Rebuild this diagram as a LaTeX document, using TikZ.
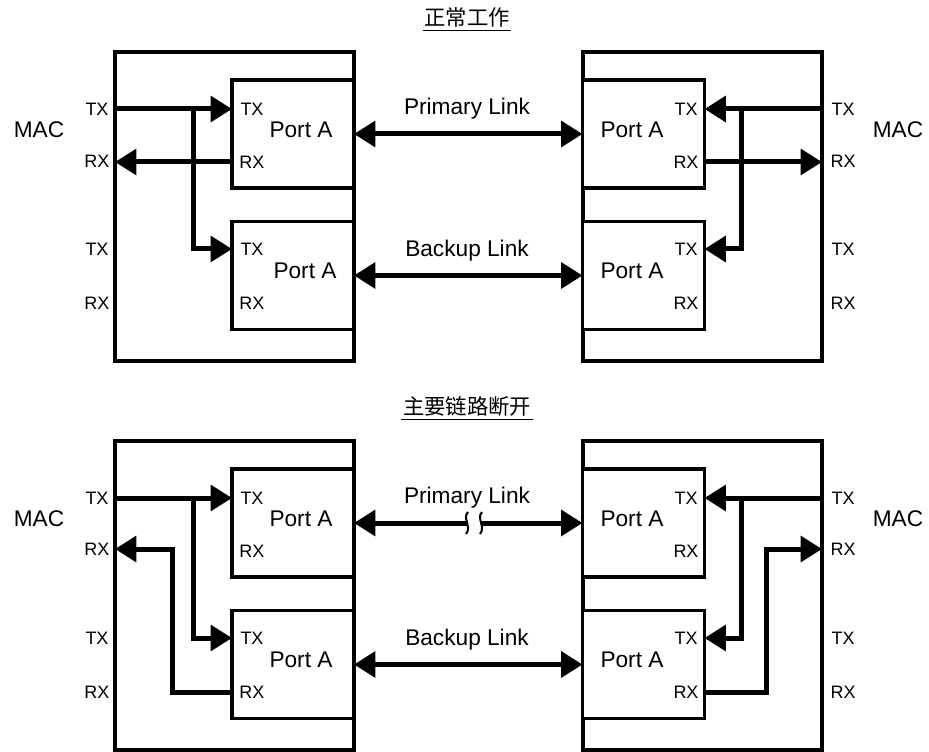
\documentclass[tikz,border=0pt]{standalone}
\usepackage{fontspec}
\setmainfont{Liberation Sans}
\newfontfamily\cjk{Noto Sans CJK SC}
\usetikzlibrary{arrows.meta}

\begin{document}
\begin{tikzpicture}[x=0.75pt,y=-0.75pt,>={Triangle[length=16pt,width=19pt]},
  mac/.style={draw,line width=2.5pt,minimum width=179.25pt,minimum height=231.75pt,inner sep=0pt,outer sep=0pt},
  port/.style={draw,fill=white,line width=2.5pt,minimum width=91.5pt,minimum height=81pt,inner sep=0pt,outer sep=0pt},
  pin/.style={font=\fontsize{13.5}{15}\selectfont,inner sep=0pt},
  big/.style={font=\fontsize{17}{20}\selectfont,inner sep=0pt},
  title/.style={font=\cjk\fontsize{16}{18}\selectfont,inner sep=1pt},
  sig/.style={line width=3.75pt,->},
  link/.style={line width=3.75pt,<->}]
\useasboundingbox (0,0) rectangle (929,752);
% normal operation
\node[title] (t1) at (467,17) {正常工作};
\draw[line width=0.9pt] ([yshift=-1.5pt]t1.south west) -- ([yshift=-1.5pt]t1.south east);
\node[mac] (macL1) at (234.5,206.5) {};
\node[port] (pL1) at (293,134) {};
\node[port] (pL2) at (293,275.5) {};
\node[mac] (macR1) at (702.5,206.5) {};
\node[port] (pR1) at (643.5,134) {};
\node[port] (pR2) at (643.5,275.5) {};
\node[big] (mL1) at (39,130) {MAC};
\node[big] (mR1) at (898,130) {MAC};
\node[pin] (txL1) at (97,109) {TX};
\node[pin] (rxL1) at (97,161) {RX};
\node[pin] (txL2) at (97,249) {TX};
\node[pin] (rxL2) at (97,303) {RX};
\node[pin] (txR1) at (843,109) {TX};
\node[pin] (rxR1) at (843,161) {RX};
\node[pin] (txR2) at (843,249) {TX};
\node[pin] (rxR2) at (843,303) {RX};
\node[pin] (ptxL1) at (252,109) {TX};
\node[pin] (prxL1) at (252,162) {RX};
\node[pin] (ptxL2) at (252,249) {TX};
\node[pin] (prxL2) at (252,303) {RX};
\node[pin] (ptxR1) at (686,109) {TX};
\node[pin] (prxR1) at (686,162) {RX};
\node[pin] (ptxR2) at (686,249) {TX};
\node[pin] (prxR2) at (686,303) {RX};
\node[big] (nL1) at (301,130) {Port A};
\node[big] (nL2) at (305,271) {Port A};
\node[big] (nR1) at (632,130) {Port A};
\node[big] (nR2) at (632,271) {Port A};
\coordinate (jL1) at (193,109);
\draw[sig] (macL1.west |- txL1) -- (pL1.west |- txL1);
\draw[sig] (jL1) |- (pL2.west |- ptxL2);
\draw[sig] (pL1.west |- prxL1) -- (macL1.west |- prxL1);
\coordinate (jR1) at (741,109);
\draw[sig] (macR1.east |- txR1) -- (pR1.east |- txR1);
\draw[sig] (jR1) |- (pR2.east |- ptxR2);
\draw[sig] (pR1.east |- prxR1) -- (macR1.east |- prxR1);
\draw[link] (pL1.east) -- (pR1.west);
\node[big] (lk1) at (467,109) {Primary Link};
\draw[link] (pL2.east) -- (pR2.west);
\node[big] (lk2) at (467,251) {Backup Link};
% primary link down
\node[title] (t2) at (467,406) {主要链路断开};
\draw[line width=0.9pt] ([yshift=-1.5pt]t2.south west) -- ([yshift=-1.5pt]t2.south east);
\node[mac] (macL3) at (234.5,595.5) {};
\node[port] (pL3) at (293,523) {};
\node[port] (pL4) at (293,664.5) {};
\node[mac] (macR3) at (702.5,595.5) {};
\node[port] (pR3) at (643.5,523) {};
\node[port] (pR4) at (643.5,664.5) {};
\node[big] (mL3) at (39,519) {MAC};
\node[big] (mR3) at (898,519) {MAC};
\node[pin] (txL3) at (97,498) {TX};
\node[pin] (rxL3) at (97,549) {RX};
\node[pin] (txL4) at (97,638) {TX};
\node[pin] (rxL4) at (97,692) {RX};
\node[pin] (txR3) at (843,498) {TX};
\node[pin] (rxR3) at (843,549) {RX};
\node[pin] (txR4) at (843,638) {TX};
\node[pin] (rxR4) at (843,692) {RX};
\node[pin] (ptxL3) at (252,498) {TX};
\node[pin] (prxL3) at (252,551) {RX};
\node[pin] (ptxL4) at (252,638) {TX};
\node[pin] (prxL4) at (252,692) {RX};
\node[pin] (ptxR3) at (686,498) {TX};
\node[pin] (prxR3) at (686,551) {RX};
\node[pin] (ptxR4) at (686,638) {TX};
\node[pin] (prxR4) at (686,692) {RX};
\node[big] (nL3) at (301,519) {Port A};
\node[big] (nL4) at (301,660) {Port A};
\node[big] (nR3) at (632,519) {Port A};
\node[big] (nR4) at (632,660) {Port A};
\coordinate (jL3) at (193,498);
\coordinate (kL4) at (172,549);
\draw[sig] (macL3.west |- txL3) -- (pL3.west |- txL3);
\draw[sig] (jL3) |- (pL4.west |- ptxL4);
\draw[sig] (pL4.west |- prxL4) -| (kL4) -- (macL3.west |- kL4);
\coordinate (jR3) at (741,498);
\coordinate (kR4) at (766,549);
\draw[sig] (macR3.east |- txR3) -- (pR3.east |- txR3);
\draw[sig] (jR3) |- (pR4.east |- ptxR4);
\draw[sig] (pR4.east |- prxR4) -| (kR4) -- (macR3.east |- kR4);
\coordinate (cutA) at (467,523);
\coordinate (cutB) at (481,523);
\draw[line width=3.75pt,<-] (pL3.east) -- (cutA);
\draw[sig] (cutB) -- (pR3.west);
\draw[line width=1.5pt] (468,512) .. controls (462,518) and (472,527) .. (466,534);
\draw[line width=1.5pt] (482,512) .. controls (476,518) and (486,527) .. (480,534);
\node[big] (lk3) at (467,498) {Primary Link};
\draw[link] (pL4.east) -- (pR4.west);
\node[big] (lk4) at (467,640) {Backup Link};
\end{tikzpicture}
\end{document}
